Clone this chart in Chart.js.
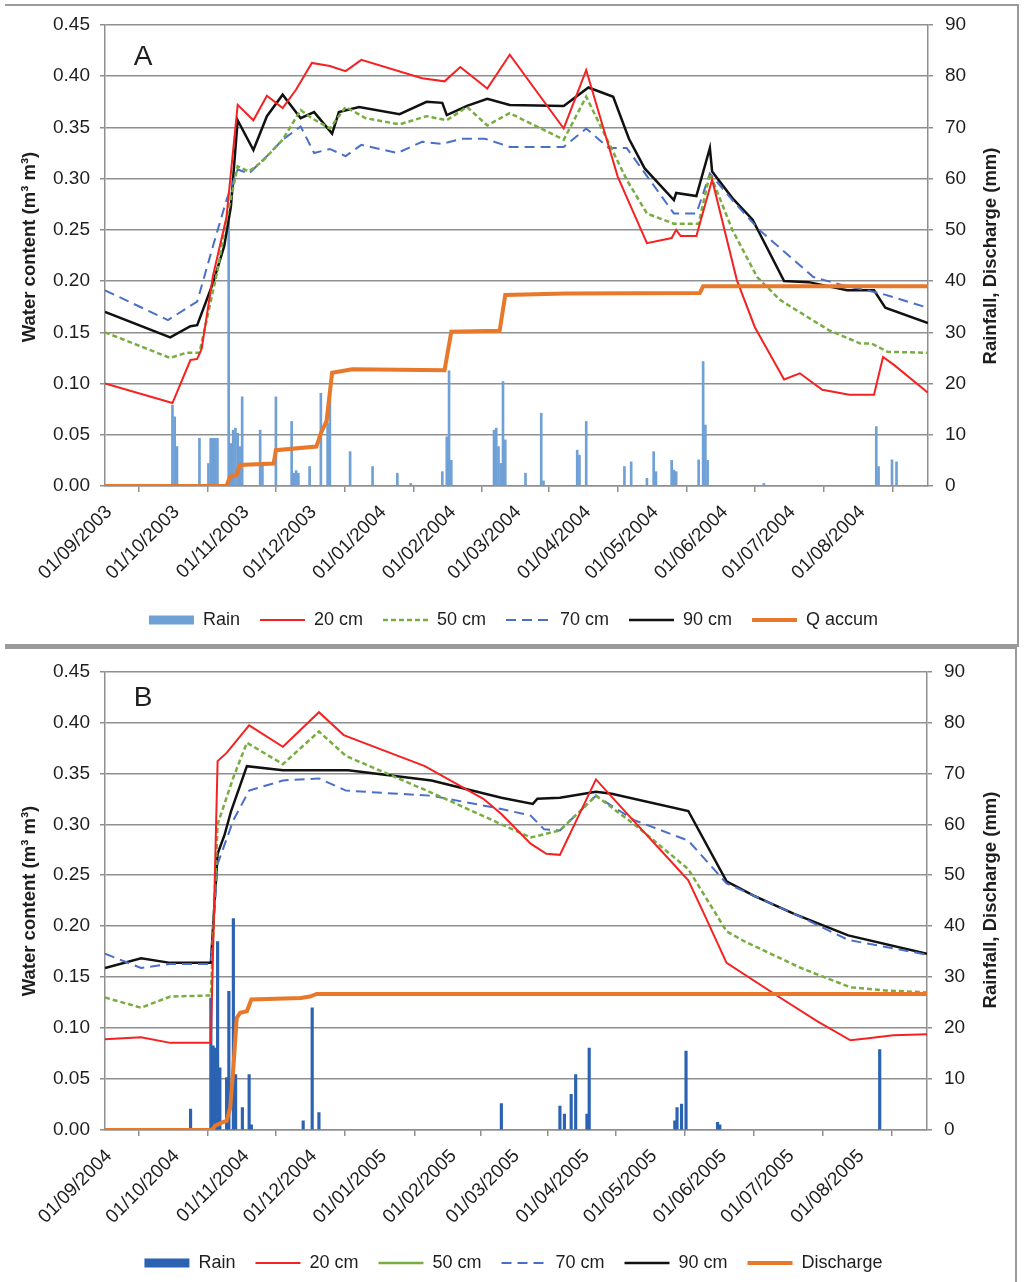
<!DOCTYPE html>
<html>
<head>
<meta charset="utf-8">
<script src="https://cdn.jsdelivr.net/npm/chart.js@4.4.1/dist/chart.umd.min.js"></script>
<style>
  html, body { margin: 0; padding: 0; background: #fff; overflow: hidden; width: 1027px; height: 1282px; }
  .wrap { position: absolute; left: 0; width: 1027px; }
  .frame { position: absolute; box-sizing: border-box; pointer-events: none; border-color: #9a9a9a; border-style: solid; }
</style>
</head>
<body>
<div class="wrap" style="top:0"><canvas id="chartA" width="1027" height="639"></canvas></div>
<div class="wrap" style="top:648px"><canvas id="chartB" width="1027" height="634"></canvas></div>
<div class="frame" style="left:5px; top:4px; width:1014px; height:643px; border-width:2px 2px 3px 0;"></div>
<div class="frame" style="left:5px; top:647px; width:1012px; height:640px; border-width:2px 2px 0 0;"></div>

<script>
// ---------- Panel A: 2003-2004 (day 0 = 01/09/2003) ----------
const tickDaysA = [0, 30, 61, 91, 122, 153, 182, 213, 243, 274, 304, 335, 366];
const tickLabelsA = ['01/09/2003', '01/10/2003', '01/11/2003', '01/12/2003', '01/01/2004', '01/02/2004',
  '01/03/2004', '01/04/2004', '01/05/2004', '01/06/2004', '01/07/2004', '01/08/2004', ''];

const rainADay = [30, 31, 32, 42, 46, 47, 48, 49, 50, 55, 56, 57, 58, 59, 60, 61, 69, 70, 76, 83, 84, 85, 86, 91, 96, 99, 100,
  109, 119, 130, 136, 150, 152, 153, 154, 173, 174, 175, 176, 177, 178, 187, 194, 195, 210, 211, 214, 231, 234, 241, 244, 245,
  252, 253, 254, 264, 266, 267, 268, 293, 343, 344, 350, 352];
const rainA = [15.8, 13.5, 7.7, 9.3, 4.4, 9.3, 9.3, 9.3, 9.3, 52, 8.3, 10.9, 11.3, 10.3, 7.7, 17.4, 10.9, 4.4, 17.4, 12.6, 2.5, 3.0, 2.5, 3.8, 18.1, 12.2, 18,
  6.7, 3.8, 2.5, 0.5, 2.8, 9.6, 22.5, 5, 10.9, 11.3, 7.7, 4.4, 20.4, 9, 2.5, 14.2, 1, 7, 6, 12.6, 3.8, 4.7, 1.5, 6.7, 2.8,
  5, 3.1, 2.8, 5.1, 24.3, 11.9, 5, 0.5, 11.6, 3.8, 5.1, 4.7];

const a20Day = [0, 30, 38, 41, 43, 48, 54, 59, 66, 72, 79, 85, 92, 100, 107, 114, 141, 151, 158, 170, 180, 204, 214, 228, 241,
  252, 254, 256, 263, 270, 281, 289, 302, 309, 319, 331, 342, 346, 351, 366];
const a20 = [0.100, 0.081, 0.123, 0.124, 0.134, 0.205, 0.262, 0.372, 0.357, 0.381, 0.369, 0.387, 0.413, 0.410, 0.405, 0.416, 0.398, 0.395, 0.409, 0.388, 0.421, 0.349, 0.406, 0.302, 0.237,
  0.242, 0.250, 0.244, 0.244, 0.299, 0.201, 0.155, 0.104, 0.110, 0.094, 0.089, 0.089, 0.126, 0.118, 0.091];

const a50Day = [0, 29, 36, 42, 50, 54, 59, 64, 70, 79, 87, 92, 100, 107, 116, 131, 143, 152, 161, 170, 180, 204, 214, 224, 232,
  241, 253, 264, 269, 279, 290, 300, 305, 322, 336, 341, 348, 366];
const a50 = [0.150, 0.125, 0.130, 0.130, 0.210, 0.260, 0.312, 0.307, 0.317, 0.338, 0.367, 0.359, 0.349, 0.370, 0.359, 0.353, 0.361, 0.357, 0.370, 0.352, 0.364, 0.338, 0.380, 0.335, 0.299,
  0.266, 0.256, 0.256, 0.305, 0.250, 0.204, 0.182, 0.175, 0.152, 0.139, 0.139, 0.131, 0.130];

const a70Day = [0, 28, 41, 48, 54, 59, 64, 72, 79, 87, 93, 100, 107, 114, 130, 141, 150, 159, 169, 180, 204, 214, 224, 232,
  253, 263, 269, 279, 291, 315, 328, 345, 366];
const a70 = [0.191, 0.162, 0.180, 0.234, 0.279, 0.309, 0.305, 0.322, 0.338, 0.351, 0.325, 0.329, 0.322, 0.333, 0.325, 0.336, 0.334, 0.339, 0.339, 0.331, 0.331, 0.349, 0.330, 0.330,
  0.266, 0.266, 0.305, 0.279, 0.250, 0.204, 0.196, 0.188, 0.174];

const a90Day = [0, 29, 38, 41, 48, 53, 56, 59, 66, 72, 79, 87, 93, 101, 104, 113, 131, 143, 150, 152, 161, 170, 180, 204, 215,
  226, 233, 240, 253, 254, 263, 269, 270, 279, 288, 302, 313, 330, 342, 347, 366];
const a90 = [0.170, 0.145, 0.156, 0.157, 0.198, 0.234, 0.273, 0.357, 0.328, 0.361, 0.382, 0.359, 0.365, 0.344, 0.365, 0.370, 0.363, 0.375, 0.374, 0.362, 0.371, 0.378, 0.372, 0.371, 0.389,
  0.380, 0.339, 0.310, 0.279, 0.286, 0.283, 0.330, 0.307, 0.281, 0.260, 0.200, 0.199, 0.191, 0.191, 0.174, 0.159];

const qADay = [0, 54, 55.6, 58.5, 60, 75, 76, 94, 96, 98.5, 101, 110, 151, 154, 175.5, 178, 205, 264.5, 266, 366];
const qA = [0, 0, 1.8, 2.1, 4.1, 4.4, 7.0, 7.7, 10.3, 12.6, 22.1, 22.8, 22.6, 30.1, 30.3, 37.3, 37.6, 37.7, 39.0, 39.0];

// ---------- Panel B: 2004-2005 (day 0 = 01/09/2004) ----------
const tickDaysB = [0, 30, 61, 91, 122, 153, 181, 212, 242, 273, 303, 334, 365];
const tickLabelsB = ['01/09/2004', '01/10/2004', '01/11/2004', '01/12/2004', '01/01/2005', '01/02/2005',
  '01/03/2005', '01/04/2005', '01/05/2005', '01/06/2005', '01/07/2005', '01/08/2005', ''];

const rainBDay = [38, 47, 48, 49, 50, 51, 54, 55, 57, 58, 61, 64, 65, 88, 92, 95, 176, 202, 204, 207, 209, 214, 215, 253, 254, 256, 258, 272, 273, 344];
const rainB = [4.1, 25.9, 16.5, 16.1, 37, 12.2, 10.3, 27.2, 41.5, 10.9, 4.4, 10.9, 1, 1.8, 24, 3.4, 5.2, 4.7, 3.1, 7, 10.9, 3.1, 16.1, 1.8, 4.4, 5.1, 15.5, 1.5, 1, 15.8];

const b20Day = [0, 16, 29, 47, 50, 54, 64, 79, 95, 106, 142, 168, 176, 189, 196, 202, 218, 232, 247, 259, 266, 276, 299, 316, 331, 339, 350, 365];
const b20 = [0.089, 0.091, 0.0855, 0.0855, 0.362, 0.370, 0.397, 0.376, 0.410, 0.3875, 0.357, 0.325, 0.310, 0.281, 0.271, 0.270, 0.344, 0.310, 0.274, 0.245, 0.212, 0.164, 0.131, 0.107, 0.088, 0.090, 0.093, 0.094];

const b50Day = [0, 16, 29, 47, 50, 57, 63, 79, 95, 107, 146, 176, 189, 202, 218, 235, 259, 276, 284, 309, 331, 346, 365];
const b50 = [0.130, 0.120, 0.131, 0.132, 0.300, 0.346, 0.380, 0.359, 0.391, 0.367, 0.330, 0.300, 0.287, 0.294, 0.328, 0.300, 0.256, 0.195, 0.185, 0.159, 0.140, 0.137, 0.135];

const b70Day = [0, 16, 29, 47, 50, 57, 64, 79, 95, 107, 145, 176, 189, 195, 202, 218, 235, 259, 276, 309, 330, 365];
const b70 = [0.173, 0.159, 0.163, 0.163, 0.261, 0.304, 0.333, 0.343, 0.345, 0.333, 0.328, 0.315, 0.3085, 0.295, 0.294, 0.328, 0.304, 0.284, 0.242, 0.209, 0.1865, 0.172];

const b90Day = [0, 16, 29, 47, 50, 53, 56, 63, 79, 108, 145, 176, 190, 192, 202, 218, 225, 259, 276, 288, 306, 330, 365];
const b90 = [0.159, 0.1685, 0.164, 0.164, 0.271, 0.289, 0.313, 0.357, 0.353, 0.353, 0.343, 0.326, 0.320, 0.325, 0.326, 0.332, 0.330, 0.313, 0.244, 0.230, 0.212, 0.191, 0.173];

const qBDay = [0, 47.4, 49, 52, 54, 55.6, 57, 58.5, 60, 63, 65, 87, 91, 94, 365];
const qB = [0, 0, 0.84, 1.5, 1.8, 4.4, 12.2, 22, 23, 23.3, 25.6, 25.9, 26.2, 26.7, 26.7];

// ---------- shared axis values ----------
const waterTicks = [0, 0.05, 0.10, 0.15, 0.20, 0.25, 0.30, 0.35, 0.40, 0.45];
const rainTicks = [0, 10, 20, 30, 40, 50, 60, 70, 80, 90];

const FONT = '"Liberation Sans", Arial, Helvetica, sans-serif';
const GRID = '#8f8f8f';
const TEXT = '#1e1e1e';

const pts = (days, vals) => days.map((d, i) => ({ x: d, y: vals[i] }));

// Axis titles and the panel letter, drawn on the canvas
const decorPlugin = {
  id: 'decor',
  afterDraw(chart, args, o) {
    const { ctx, chartArea } = chart;
    ctx.save();
    ctx.fillStyle = TEXT;
    ctx.textAlign = 'center';
    ctx.textBaseline = 'middle';
    ctx.font = 'bold 18.5px ' + FONT;
    [[o.leftX, o.leftY, o.leftTitle], [o.rightX, o.rightY, o.rightTitle]].forEach(([x, y, t]) => {
      ctx.save();
      ctx.translate(x, y);
      ctx.rotate(-Math.PI / 2);
      ctx.fillText(t, 0, 0);
      ctx.restore();
    });
    ctx.font = '28px ' + FONT;
    ctx.fillText(o.letter, chartArea.left + o.letterDx, chartArea.top + o.letterDy);
    ctx.restore();
  }
};

function buildChart(id, p) {
  const lineDs = (label, days, vals, color, width, dash, extra) => Object.assign({
    type: 'line', label, data: pts(days, vals), yAxisID: 'y',
    borderColor: color, backgroundColor: color, borderWidth: width, borderDash: dash,
    pointRadius: 0, tension: 0, fill: false, order: 1
  }, extra || {});

  const datasets = [
    { type: 'bar', label: 'Rain', data: pts(p.rainDay, p.rain), yAxisID: 'y2',
      backgroundColor: p.rainColor, borderWidth: 0, barThickness: p.barW, order: 10 },
    lineDs('20 cm', p.d20, p.v20, '#f52222', 2, []),
    lineDs('50 cm', p.d50, p.v50, '#78ad42', 2.5, [5, 3], { legendDash: p.legend50Dash }),
    lineDs('70 cm', p.d70, p.v70, '#4a6fc8', 2, [10, 6]),
    lineDs('90 cm', p.d90, p.v90, '#111111', 2.5, []),
    lineDs(p.qLabel, p.qDay, p.q, '#e8782a', 4, [], { yAxisID: 'y2', order: 0 })
  ];

  return new Chart(document.getElementById(id), {
    type: 'bar',
    data: { datasets },
    plugins: [decorPlugin],
    options: {
      responsive: false,
      devicePixelRatio: 1,
      animation: false,
      events: [],
      layout: { padding: { top: p.padTop, left: 0, right: 0, bottom: 0 } },
      scales: {
        x: {
          type: 'linear', min: 0, max: p.maxDay, offset: false,
          afterBuildTicks: s => { s.ticks = p.tickDays.map(v => ({ value: v })); },
          afterFit: s => { s.height = p.xHeight; },
          ticks: {
            autoSkip: false, minRotation: 45, maxRotation: 45, padding: 9, labelOffset: 4, color: TEXT,
            font: { family: FONT, size: 19 },
            callback: (v, i) => p.tickLabels[i]
          },
          grid: { drawOnChartArea: false, drawTicks: true, tickLength: 6, color: GRID, lineWidth: 1.5 },
          border: { display: true, color: GRID, width: 1.5 }
        },
        y: {
          position: 'left', min: 0, max: 0.45,
          afterBuildTicks: s => { s.ticks = waterTicks.map(v => ({ value: v })); },
          afterFit: s => { s.width = 105; },
          ticks: { padding: 10, color: TEXT, font: { family: FONT, size: 19 }, callback: v => v.toFixed(2) },
          grid: { color: GRID, lineWidth: 1.5, tickLength: 5, drawTicks: true },
          border: { display: true, color: GRID, width: 1.5 }
        },
        y2: {
          position: 'right', min: 0, max: 90,
          afterBuildTicks: s => { s.ticks = rainTicks.map(v => ({ value: v })); },
          afterFit: s => { s.width = p.rightW; },
          ticks: { padding: 12, color: TEXT, font: { family: FONT, size: 19 } },
          grid: { drawOnChartArea: false, drawTicks: true, tickLength: 5, color: GRID, lineWidth: 1.5 },
          border: { display: true, color: GRID, width: 1.5 }
        }
      },
      plugins: {
        tooltip: { enabled: false },
        legend: {
          position: 'bottom',
          labels: {
            usePointStyle: true, pointStyleWidth: 45, boxHeight: 9, padding: 20,
            color: TEXT, font: { family: FONT, size: 18 },
            generateLabels: chart => chart.data.datasets.map((ds, i) => {
              const isBar = ds.type === 'bar';
              return {
                text: ds.label,
                fillStyle: isBar ? ds.backgroundColor : ds.borderColor,
                strokeStyle: isBar ? ds.backgroundColor : ds.borderColor,
                lineWidth: isBar ? 0 : ds.borderWidth,
                lineDash: ds.legendDash || ds.borderDash || [],
                pointStyle: isBar ? 'rect' : 'line',
                fontColor: TEXT,
                hidden: false,
                datasetIndex: i
              };
            })
          }
        },
        decor: {
          leftTitle: 'Water content (m³ m³)', rightTitle: 'Rainfall, Discharge (mm)',
          leftX: 30, leftY: p.leftTitleY, rightX: 991, rightY: p.rightTitleY,
          letter: p.letter, letterDx: 38, letterDy: p.letterDy
        }
      }
    }
  });
}

buildChart('chartA', {
  tickDays: tickDaysA, tickLabels: tickLabelsA, maxDay: 366,
  rainDay: rainADay, rain: rainA, rainColor: '#6fa0d6', barW: 2,
  d20: a20Day, v20: a20, d50: a50Day, v50: a50, d70: a70Day, v70: a70, d90: a90Day, v90: a90,
  qDay: qADay, q: qA, qLabel: 'Q accum', legend50Dash: null,
  padTop: 25, xHeight: 105, rightW: 99,
  leftTitleY: 247, rightTitleY: 256, letter: 'A', letterDy: 32
});

buildChart('chartB', {
  tickDays: tickDaysB, tickLabels: tickLabelsB, maxDay: 365,
  rainDay: rainBDay, rain: rainB, rainColor: '#2b63b2', barW: 2.5,
  d20: b20Day, v20: b20, d50: b50Day, v50: b50, d70: b70Day, v70: b70, d90: b90Day, v90: b90,
  qDay: qBDay, q: qB, qLabel: 'Discharge', legend50Dash: [],
  padTop: 20, xHeight: 104, rightW: 100,
  leftTitleY: 253, rightTitleY: 252, letter: 'B', letterDy: 27
});
</script>
</body>
</html>
